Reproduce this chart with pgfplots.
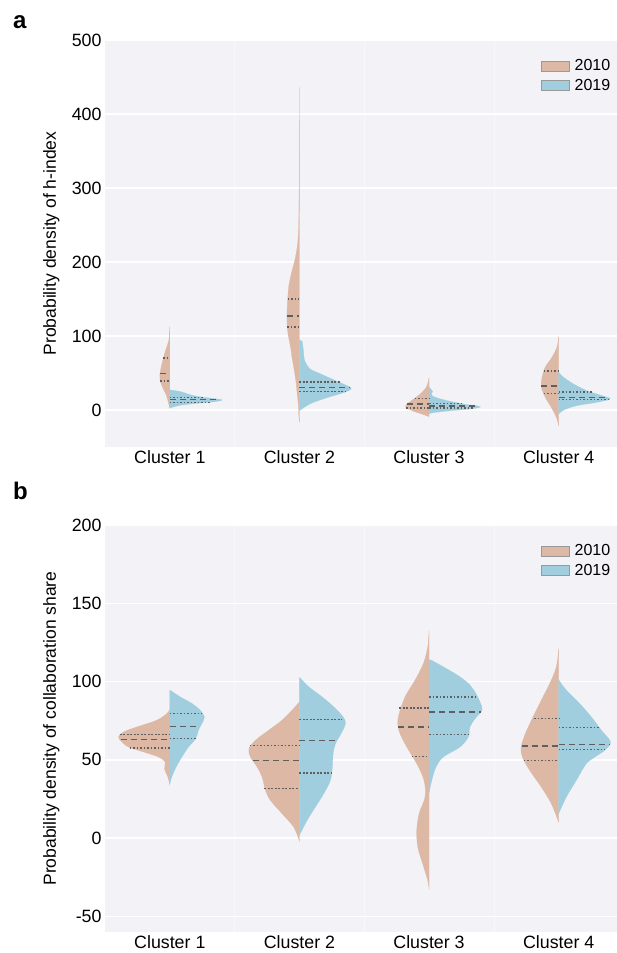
\documentclass[border=0pt]{standalone}
\usepackage{fontspec}
\setmainfont{Liberation Sans}
\usepackage{pgfplots}
\pgfplotsset{compat=1.18}
\definecolor{c10}{RGB}{221,184,164}
\definecolor{c19}{RGB}{160,206,222}
\definecolor{bg}{RGB}{242,242,247}
\definecolor{ql}{RGB}{95,95,95}
\pgfplotsset{
 vax/.style={
  scale only axis, width=512bp, height=407bp, anchor=south west,
  xmin=-0.5, xmax=3.45,
  xtick={0,1,2,3}, xticklabels={Cluster 1,Cluster 2,Cluster 3,Cluster 4},
  minor xtick={0.5,1.5,2.5},
  xminorgrids=true, ymajorgrids=true,
  major grid style={white, line width=1.5bp},
  minor grid style={white, line width=0.6bp, opacity=0.5},
  axis background/.style={fill=bg},
  axis line style={draw=none},
  major tick length=0pt, minor tick length=0pt,
  tick label style={font=\fontsize{17.8bp}{20bp}\selectfont},
  /pgf/number format/assume math mode=true,
  label style={font=\fontsize{17.5bp}{20bp}\selectfont},
  ylabel style={at={(axis description cs:-0.105,0.5)}, anchor=center},
  legend style={at={(axis description cs:0.997,0.962)}, anchor=north east, draw=none, fill=none,
    font=\fontsize{16bp}{18bp}\selectfont, row sep=3bp, cells={anchor=west}},
  legend image code/.code={\draw[#1] (0bp,-5bp) rectangle (28bp,5bp); \path (31bp,0bp);},
 },
 h10/.style={fill=c10, draw=c10, line width=0.2bp, smooth, tension=0.55, forget plot},
 h19/.style={fill=c19, draw=c19, line width=0.2bp, smooth, tension=0.55, forget plot},
 qd/.style={ql, line width=1.4bp, dash pattern=on 1.6bp off 1.9bp, forget plot},
 md/.style={ql, line width=1.4bp, dash pattern=on 6bp off 4bp, forget plot},
}
\begin{document}
\begin{tikzpicture}
% ---------------- panel a ----------------
\begin{axis}[vax, at={(105bp,506bp)}, ymin=-50, ymax=500, ytick={0,100,200,300,400,500},
  ylabel={Probability density of h-index}]
\addlegendimage{fill=c10, draw=gray!80, line width=0.8bp}
\addlegendentry{2010}
\addlegendimage{fill=c19, draw=gray!80, line width=0.8bp}
\addlegendentry{2019}
% Cluster 1
\addplot[h10] table[x expr=0-\thisrow{w}, y=y] {
y w
113 0
94 0.008
80.5 0.033
69 0.051
58 0.067
46.6 0.077
40 0.075
31 0.057
19.5 0.026
8 0.008
2.7 0
} -- cycle;
\addplot[h19] table[x expr=0+\thisrow{w}, y=y] {
y w
27 0
26.5 0.03
25 0.08
23.5 0.11
21 0.15
18 0.224
15.8 0.326
13.6 0.404
11.3 0.35
9 0.21
6.3 0.08
2.7 0
} -- cycle;
% Cluster 2
\addplot[h10] table[x expr=1-\thisrow{w}, y=y] {
y w
436 0
287 0.003
233 0.010
206 0.031
188 0.057
170 0.080
152 0.090
130 0.096
111 0.094
95 0.080
84.6 0.068
71.5 0.058
62 0.048
40 0.028
26 0.020
10 0.010
-10 0.004
-16.7 0
} -- cycle;
\addplot[h19] table[x expr=1+\thisrow{w}, y=y] {
y w
94 0
93 0.02
80.5 0.031
67 0.040
55.6 0.082
49 0.16
42 0.25
35 0.34
29.4 0.40
24 0.35
17 0.22
10.4 0.11
4.5 0.044
-1 0
} -- cycle;
% Cluster 3
\addplot[h10] table[x expr=2-\thisrow{w}, y=y] {
y w
43.4 0
30.8 0.021
21.7 0.067
15 0.118
8 0.17
3.6 0.18
-1.8 0.118
-6.3 0.041
-9 0
} -- cycle;
\addplot[h19] table[x expr=2+\thisrow{w}, y=y] {
y w
31 0
30 0.005
27 0.02
25 0.028
22 0.018
19 0.025
17 0.049
12.7 0.139
8 0.267
4.5 0.396
1.4 0.32
-1 0.165
-3.6 0.036
-5 0
} -- cycle;
% Cluster 4
\addplot[h10] table[x expr=3-\thisrow{w}, y=y] {
y w
99.5 0
85 0.013
71.5 0.051
58 0.103
44 0.129
30.8 0.134
17 0.103
3.6 0.057
-10 0.018
-21 0
} -- cycle;
\addplot[h19] table[x expr=3+\thisrow{w}, y=y] {
y w
51 0
49 0.01
44 0.039
35 0.116
26 0.219
19.5 0.334
15 0.398
10.4 0.296
5.9 0.141
0 0.039
-5.4 0
} -- cycle;
% quartile lines
\addplot[qd] coordinates {(-0.05,70) (0,70)};
\addplot[md] coordinates {(-0.076,49) (0,49)};
\addplot[qd] coordinates {(-0.073,39) (0,39)};
\addplot[qd] coordinates {(0,17) (0.26,17)};
\addplot[md] coordinates {(0,14.5) (0.38,14.5)};
\addplot[qd] coordinates {(0,10.5) (0.31,10.5)};
\addplot[qd] coordinates {(0.91,150) (1,150)};
\addplot[md] coordinates {(0.904,127) (1,127)};
\addplot[qd] coordinates {(0.906,112) (1,112)};
\addplot[qd] coordinates {(1,37.6) (1.31,37.6)};
\addplot[md] coordinates {(1,30.8) (1.39,30.8)};
\addplot[qd] coordinates {(1,24.9) (1.36,24.9)};
\addplot[qd] coordinates {(1.89,15.8) (2,15.8)};
\addplot[md] coordinates {(1.83,8.1) (2,8.1)};
\addplot[qd] coordinates {(1.825,2.7) (2,2.7)};
\addplot[qd] coordinates {(2,8.5) (2.25,8.5)};
\addplot[md] coordinates {(2,5.5) (2.36,5.5)};
\addplot[qd] coordinates {(2,2.8) (2.35,2.8)};
\addplot[qd] coordinates {(2.885,52.5) (3,52.5)};
\addplot[md] coordinates {(2.866,32.6) (3,32.6)};
\addplot[qd] coordinates {(2.883,22.6) (3,22.6)};
\addplot[qd] coordinates {(3,24.4) (3.27,24.4)};
\addplot[md] coordinates {(3,16.5) (3.38,16.5)};
\addplot[qd] coordinates {(3,14.5) (3.39,14.5)};
\end{axis}
% ---------------- panel b ----------------
\begin{axis}[vax, at={(105bp,21bp)}, ymin=-60, ymax=200, ytick={-50,0,50,100,150,200},
  ylabel={Probability density of collaboration share}]
\addlegendimage{fill=c10, draw=gray!80, line width=0.8bp}
\addlegendentry{2010}
\addlegendimage{fill=c19, draw=gray!80, line width=0.8bp}
\addlegendentry{2019}
% Cluster 1
\addplot[h10] table[x expr=0-\thisrow{w}, y=y] {
y w
82 0
79.5 0.023
75.3 0.10
71 0.254
67.8 0.357
64.6 0.396
61.4 0.37
58.2 0.319
55 0.203
51.8 0.087
48.6 0.036
44.3 0.041
39 0.015
34.3 0
} -- cycle;
\addplot[h19] table[x expr=0+\thisrow{w}, y=y] {
y w
94.5 0
94 0.01
90.2 0.08
86 0.17
81.7 0.234
77.4 0.267
73.1 0.247
68.9 0.221
63.5 0.20
58.2 0.144
51.8 0.093
45.4 0.049
39 0.015
34.3 0
} -- cycle;
% Cluster 2
\addplot[h10] table[x expr=1-\thisrow{w}, y=y] {
y w
87 0
81.7 0.057
75.3 0.134
68.9 0.237
62.5 0.339
57.1 0.39
51.8 0.378
45.4 0.326
39 0.288
30.5 0.262
24.1 0.224
15.6 0.134
7 0.044
-1.9 0
} -- cycle;
\addplot[h19] table[x expr=1+\thisrow{w}, y=y] {
y w
102.6 0
101 0.02
96.6 0.072
90.2 0.175
83.8 0.265
77.4 0.337
73.1 0.355
66.7 0.321
60.3 0.278
53.9 0.26
45.4 0.254
36.9 0.239
28.4 0.188
19.8 0.123
11.3 0.059
1.7 0
} -- cycle;
% Cluster 3
\addplot[h10] table[x expr=2-\thisrow{w}, y=y] {
y w
132.4 0
122.2 0.010
111.5 0.044
100.9 0.108
90.2 0.185
79.5 0.231
73.1 0.242
66.7 0.224
58.2 0.172
47.5 0.095
36.9 0.039
26.2 0.031
15.6 0.077
4.9 0.095
-5.8 0.087
-16.4 0.049
-27.1 0.010
-32.8 0
} -- cycle;
\addplot[h19] table[x expr=2+\thisrow{w}, y=y] {
y w
114 0
113.5 0.02
109.4 0.11
103 0.239
97.7 0.316
92.3 0.362
87 0.393
81.7 0.409
76.3 0.355
71 0.316
64.6 0.303
58.2 0.239
51.8 0.11
45.4 0.054
36.9 0.021
28.8 0
} -- cycle;
% Cluster 4
\addplot[h10] table[x expr=3-\thisrow{w}, y=y] {
y w
121.1 0
109.4 0.018
98.7 0.069
88.1 0.134
77.4 0.198
66.7 0.257
58.2 0.29
51.8 0.28
43.3 0.224
32.6 0.134
22 0.057
10.2 0
} -- cycle;
\addplot[h19] table[x expr=3+\thisrow{w}, y=y] {
y w
101.3 0
100.5 0.005
94.5 0.059
85.9 0.162
77.4 0.252
68.9 0.329
61.4 0.40
56.1 0.355
51.8 0.28
47.5 0.213
36.9 0.136
26.2 0.059
15.6 0
} -- cycle;
% quartile lines
\addplot[qd] coordinates {(-0.385,66.3) (0,66.3)};
\addplot[md] coordinates {(-0.38,62.9) (0,62.9)};
\addplot[qd] coordinates {(-0.31,57.6) (0,57.6)};
\addplot[qd] coordinates {(0,79.5) (0.25,79.5)};
\addplot[md] coordinates {(0,71.4) (0.23,71.4)};
\addplot[qd] coordinates {(0,63.5) (0.2,63.5)};
\addplot[qd] coordinates {(0.615,59.3) (1,59.3)};
\addplot[md] coordinates {(0.64,49.7) (1,49.7)};
\addplot[qd] coordinates {(0.73,31.6) (1,31.6)};
\addplot[qd] coordinates {(1,75.7) (1.33,75.7)};
\addplot[md] coordinates {(1,62.5) (1.28,62.5)};
\addplot[qd] coordinates {(1,41.6) (1.25,41.6)};
\addplot[qd] coordinates {(1.772,83.2) (2,83.2)};
\addplot[md] coordinates {(1.762,71) (2,71)};
\addplot[qd] coordinates {(1.866,52.2) (2,52.2)};
\addplot[qd] coordinates {(2,90.2) (2.362,90.2)};
\addplot[md] coordinates {(2,80.6) (2.40,80.6)};
\addplot[qd] coordinates {(2,66.1) (2.30,66.1)};
\addplot[qd] coordinates {(2.81,76.5) (3,76.5)};
\addplot[md] coordinates {(2.715,58.8) (3,58.8)};
\addplot[qd] coordinates {(2.73,49.7) (3,49.7)};
\addplot[qd] coordinates {(3,70.8) (3.32,70.8)};
\addplot[md] coordinates {(3,59.9) (3.39,59.9)};
\addplot[qd] coordinates {(3,56.5) (3.36,56.5)};
\end{axis}
\node[anchor=base west, font=\bfseries\fontsize{24bp}{26bp}\selectfont, inner sep=0pt] at (13bp,924.7bp) {a};
\node[anchor=base west, font=\bfseries\fontsize{24bp}{26bp}\selectfont, inner sep=0pt] at (13bp,453bp) {b};
\pgfresetboundingbox
\path[use as bounding box] (0,0) rectangle (617bp,953bp);
\end{tikzpicture}
\end{document}
